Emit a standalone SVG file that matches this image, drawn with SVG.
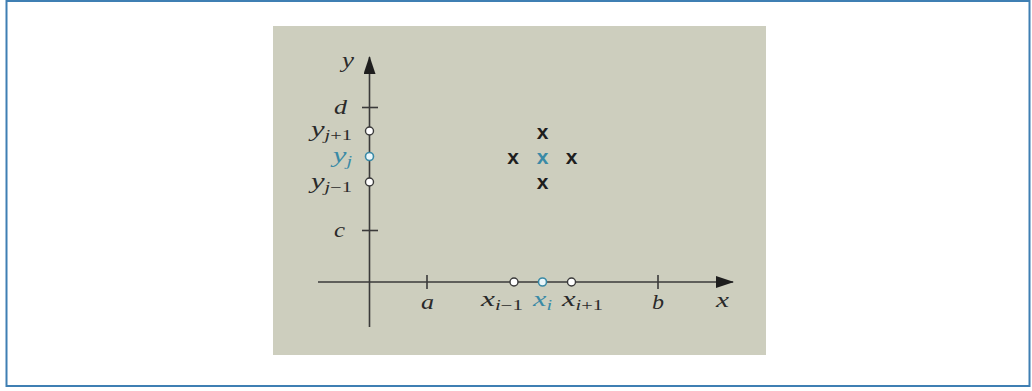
<svg xmlns="http://www.w3.org/2000/svg" width="1032" height="391" viewBox="0 0 1032 391">
<defs>
<style>
.lbl{font-family:"Liberation Serif",serif;font-style:italic;font-size:21px;fill:#2a2a2a}
.sub{font-size:14px}
.up{font-style:normal}
.teal{fill:#3a8aa6}
.ax{stroke:#3a3a3a;stroke-width:1.6;fill:none}
.pt{fill:#fff;stroke:#3a3a3a;stroke-width:1.4}
.ptt{fill:#eaf6fa;stroke:#3a8aa6;stroke-width:1.6}
.cr{font-family:"Liberation Sans",sans-serif;font-weight:bold;font-size:21px;fill:#1e1e1e;text-anchor:middle}
</style>
<marker id="ah" markerWidth="18" markerHeight="12" refX="17" refY="6" orient="auto" markerUnits="userSpaceOnUse">
<path d="M0,0 L18,6 L0,12 Z" fill="#1e1e1e"/>
</marker>
</defs>
<rect x="0" y="0" width="1032" height="391" fill="#fff"/>
<rect x="6.5" y="1" width="1023" height="385" fill="none" stroke="#3f7fb3" stroke-width="2"/>
<rect x="273" y="26" width="493" height="329" fill="#cdcebe"/>
<g id="connectors">
<line class="ax" x1="369.5" y1="327" x2="369.5" y2="57" marker-end="url(#ah)"/>
<line class="ax" x1="318" y1="282" x2="733" y2="282" marker-end="url(#ah)"/>
<line class="ax" x1="362" y1="107.5" x2="378" y2="107.5"/>
<line class="ax" x1="362" y1="230.5" x2="378" y2="230.5"/>
<line class="ax" x1="427" y1="275" x2="427" y2="289"/>
<line class="ax" x1="658" y1="275" x2="658" y2="289"/>
</g>
<g id="y-label"><text class="lbl" x="342" y="67" textLength="12" lengthAdjust="spacingAndGlyphs">y</text></g>
<g id="x-label"><text class="lbl" x="716" y="307" textLength="13" lengthAdjust="spacingAndGlyphs">x</text></g>
<g id="d"><text class="lbl" x="334" y="114" textLength="13" lengthAdjust="spacingAndGlyphs">d</text></g>
<g id="c"><text class="lbl" x="334" y="237" textLength="11" lengthAdjust="spacingAndGlyphs">c</text></g>
<g id="a"><text class="lbl" x="421" y="309" textLength="13" lengthAdjust="spacingAndGlyphs">a</text></g>
<g id="b"><text class="lbl" x="652" y="309" textLength="12" lengthAdjust="spacingAndGlyphs">b</text></g>
<g id="yj1"><circle class="pt" cx="369.5" cy="131" r="4"/><text class="lbl" x="311" y="136" textLength="41" lengthAdjust="spacingAndGlyphs">y<tspan class="sub" dy="4">j<tspan class="up">+1</tspan></tspan></text></g>
<g id="yj"><circle class="ptt" cx="369.5" cy="156.5" r="4"/><text class="lbl teal" x="333" y="162" textLength="19" lengthAdjust="spacingAndGlyphs">y<tspan class="sub" dy="4">j</tspan></text></g>
<g id="yjm1"><circle class="pt" cx="369.5" cy="182" r="4"/><text class="lbl" x="311" y="188" textLength="41" lengthAdjust="spacingAndGlyphs">y<tspan class="sub" dy="4">j<tspan class="up">−1</tspan></tspan></text></g>
<g id="xim1"><circle class="pt" cx="514" cy="282" r="4"/><text class="lbl" x="481" y="306" textLength="42" lengthAdjust="spacingAndGlyphs">x<tspan class="sub" dy="4">i<tspan class="up">−1</tspan></tspan></text></g>
<g id="xi"><circle class="ptt" cx="542.5" cy="282" r="4"/><text class="lbl teal" x="533" y="306" textLength="19" lengthAdjust="spacingAndGlyphs">x<tspan class="sub" dy="4">i</tspan></text></g>
<g id="xip1"><circle class="pt" cx="571.5" cy="282" r="4"/><text class="lbl" x="562" y="306" textLength="41" lengthAdjust="spacingAndGlyphs">x<tspan class="sub" dy="4">i<tspan class="up">+1</tspan></tspan></text></g>
<g id="crosses">
<text class="cr" x="542.5" y="139">x</text>
<text class="cr" x="513" y="164">x</text>
<text class="cr" x="542.5" y="164" style="fill:#3a8aa6">x</text>
<text class="cr" x="571.5" y="164">x</text>
<text class="cr" x="542.5" y="188.5">x</text>
</g>
</svg>
